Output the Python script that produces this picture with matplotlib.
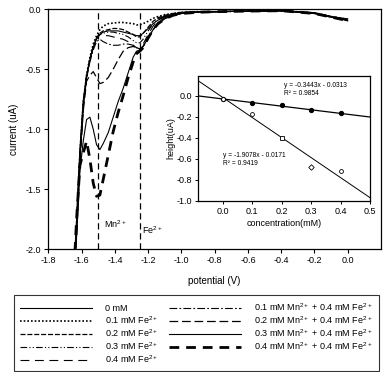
import matplotlib
matplotlib.use('Agg')
from matplotlib import pyplot as plt

plt.rcParams['font.family'] = ['Liberation Sans', 'DejaVu Sans']
plt.rcParams['mathtext.fontset'] = 'custom'
plt.rcParams['mathtext.rm'] = 'Liberation Sans'

# potential (V) shared by all voltammograms
potential = [-1.65, -1.63, -1.61, -1.59, -1.57, -1.55, -1.53, -1.51, -1.49, -1.47,
             -1.44, -1.41, -1.38, -1.35, -1.32, -1.29, -1.27, -1.25, -1.23, -1.20,
             -1.17, -1.14, -1.10, -1.05, -1.00, -0.90, -0.80, -0.60, -0.40, -0.20,
             -0.10, 0.00]

cur_0 = [-2.3, -1.75, -1.17, -0.76, -0.55, -0.42, -0.32, -0.25, -0.21, -0.19,
         -0.18, -0.18, -0.18, -0.19, -0.20, -0.21, -0.22, -0.22, -0.20, -0.16,
         -0.12, -0.09, -0.06, -0.04, -0.03, -0.02, -0.02, -0.015, -0.01, -0.03,
         -0.06, -0.08]
cur_fe1 = [-2.3, -1.8, -1.2, -0.78, -0.55, -0.40, -0.29, -0.22, -0.17, -0.14,
           -0.12, -0.115, -0.11, -0.11, -0.115, -0.12, -0.13, -0.13, -0.12, -0.10,
           -0.075, -0.06, -0.045, -0.035, -0.025, -0.02, -0.02, -0.015, -0.012, -0.03,
           -0.06, -0.085]
cur_fe2 = [-2.3, -1.8, -1.22, -0.80, -0.56, -0.42, -0.31, -0.24, -0.20, -0.18,
           -0.17, -0.16, -0.16, -0.17, -0.19, -0.21, -0.23, -0.23, -0.20, -0.15,
           -0.10, -0.07, -0.05, -0.035, -0.025, -0.02, -0.02, -0.015, -0.012, -0.03,
           -0.06, -0.09]
cur_fe3 = [-2.3, -1.8, -1.22, -0.80, -0.56, -0.42, -0.31, -0.24, -0.21, -0.20,
           -0.19, -0.19, -0.20, -0.21, -0.23, -0.26, -0.28, -0.28, -0.25, -0.18,
           -0.12, -0.08, -0.055, -0.04, -0.03, -0.022, -0.02, -0.015, -0.012, -0.03,
           -0.065, -0.09]
cur_fe4 = [-2.3, -1.8, -1.22, -0.80, -0.56, -0.42, -0.31, -0.24, -0.21, -0.22,
           -0.22, -0.23, -0.24, -0.25, -0.27, -0.30, -0.32, -0.33, -0.29, -0.21,
           -0.14, -0.09, -0.06, -0.045, -0.03, -0.022, -0.02, -0.015, -0.012, -0.035,
           -0.065, -0.095]
cur_mn1 = [-2.3, -1.85, -1.25, -0.82, -0.58, -0.44, -0.34, -0.27, -0.25, -0.27,
           -0.29, -0.30, -0.30, -0.29, -0.29, -0.30, -0.32, -0.33, -0.31, -0.24,
           -0.17, -0.11, -0.07, -0.05, -0.035, -0.025, -0.02, -0.015, -0.012, -0.035,
           -0.065, -0.095]
cur_mn2 = [-2.3, -1.9, -1.30, -0.85, -0.60, -0.55, -0.52, -0.57, -0.62, -0.61,
           -0.57, -0.50, -0.42, -0.35, -0.32, -0.31, -0.32, -0.33, -0.31, -0.24,
           -0.17, -0.11, -0.07, -0.05, -0.035, -0.025, -0.02, -0.015, -0.012, -0.035,
           -0.065, -0.095]
cur_mn3 = [-2.3, -1.9, -1.35, -1.10, -0.92, -0.90, -1.00, -1.13, -1.17, -1.12,
           -1.03, -0.90, -0.77, -0.66, -0.53, -0.40, -0.35, -0.34, -0.31, -0.24,
           -0.17, -0.12, -0.08, -0.05, -0.035, -0.025, -0.02, -0.015, -0.012, -0.035,
           -0.065, -0.095]
cur_mn4 = [-2.3, -1.75, -1.30, -1.20, -1.10, -1.25, -1.45, -1.56, -1.55, -1.42,
           -1.22, -1.02, -0.86, -0.72, -0.57, -0.44, -0.37, -0.35, -0.32, -0.24,
           -0.17, -0.12, -0.08, -0.05, -0.035, -0.025, -0.02, -0.015, -0.012, -0.035,
           -0.065, -0.095]

labels = ['0 mM',
          r'0.1 mM Fe$\mathregular{^{2+}}$',
          r'0.2 mM Fe$\mathregular{^{2+}}$',
          r'0.3 mM Fe$\mathregular{^{2+}}$',
          r'0.4 mM Fe$\mathregular{^{2+}}$',
          r'0.1 mM Mn$\mathregular{^{2+}}$ + 0.4 mM Fe$\mathregular{^{2+}}$',
          r'0.2 mM Mn$\mathregular{^{2+}}$ + 0.4 mM Fe$\mathregular{^{2+}}$',
          r'0.3 mM Mn$\mathregular{^{2+}}$ + 0.4 mM Fe$\mathregular{^{2+}}$',
          r'0.4 mM Mn$\mathregular{^{2+}}$ + 0.4 mM Fe$\mathregular{^{2+}}$']

# inset: peak height vs concentration
conc = [0.0, 0.1, 0.2, 0.3, 0.4]
height_mn = [-0.03, -0.072, -0.085, -0.133, -0.168]
height_fe = [-0.03, -0.174, -0.40, -0.675, -0.72]

curves = [cur_0, cur_fe1, cur_fe2, cur_fe3, cur_fe4, cur_mn1, cur_mn2, cur_mn3, cur_mn4]
styles = [dict(ls='-', lw=0.8),
          dict(ls=(0, (1, 1.2)), lw=1.2),
          dict(ls=(0, (4, 1.5)), lw=0.9),
          dict(ls=(0, (6, 2, 1, 2, 1, 2)), lw=0.8),
          dict(ls=(0, (8, 5)), lw=0.8),
          dict(ls=(0, (7, 2, 1.5, 2)), lw=0.8),
          dict(ls=(0, (7, 3)), lw=0.9),
          dict(ls='-', lw=0.8),
          dict(ls=(0, (3.5, 2.5)), lw=2.0)]

fig = plt.figure(figsize=(3.88, 3.72), dpi=100)
ax = fig.add_axes([0.1245, 0.3306, 0.8575, 0.6444])

lines = []
for cur, st, lab in zip(curves, styles, labels):
    l, = ax.plot(potential, cur, color='black', label=lab, **st)
    lines.append(l)

ax.axvline(-1.5, color='black', ls=(0, (5, 3)), lw=0.9)
ax.axvline(-1.25, color='black', ls=(0, (5, 3)), lw=0.9)
ax.text(-1.465, -1.79, r'Mn$\mathregular{^{2+}}$', fontsize=6.5, va='center')
ax.text(-1.235, -1.84, r'Fe$\mathregular{^{2+}}$', fontsize=6.5, va='center')

ax.set_xlim(-1.8, 0.2)
ax.set_ylim(-2.0, 0.0)
ax.set_xticks([-1.8, -1.6, -1.4, -1.2, -1.0, -0.8, -0.6, -0.4, -0.2, 0.0])
ax.set_yticks([0.0, -0.5, -1.0, -1.5, -2.0])
ax.set_xticklabels(['-1.8', '-1.6', '-1.4', '-1.2', '-1.0', '-0.8', '-0.6', '-0.4', '-0.2', '0.0'])
ax.set_yticklabels(['0.0', '-0.5', '-1.0', '-1.5', '-2.0'])
ax.tick_params(direction='out', length=3, width=0.8, labelsize=6.5, pad=2)
ax.tick_params(top=False, right=False)
ax.set_xlabel('potential (V)', fontsize=7, labelpad=8)
ax.set_ylabel('current (uA)', fontsize=7, labelpad=5)
for s in ax.spines.values():
    s.set_linewidth(0.9)

# inset
ins = fig.add_axes([0.511, 0.4605, 0.4426, 0.3352])
ins.set_xlim(-0.083, 0.5)
ins.set_ylim(-1.0, 0.187)
ins.plot([-0.083, 0.5], [-0.3443 * -0.083 - 0.0313, -0.3443 * 0.5 - 0.0313], color='black', lw=0.9)
ins.plot([-0.083, 0.5], [-1.9078 * -0.083 - 0.0171, -1.9078 * 0.5 - 0.0171], color='black', lw=0.7)
ins.plot(conc, height_mn, 'o', color='black', ms=2.8)
fe_markers = ['o', 'o', 's', 'D', 'o']
for c, h, m in zip(conc, height_fe, fe_markers):
    ins.plot(c, h, m, mfc='white', mec='black', ms=2.8, mew=0.6)
ins.text(0.207, 0.10, 'y = -0.3443x - 0.0313', fontsize=4.8, va='center')
ins.text(0.207, 0.016, 'R² = 0.9854', fontsize=4.8, va='center')
ins.text(0.0, -0.57, 'y = -1.9078x - 0.0171', fontsize=4.8, va='center')
ins.text(0.0, -0.65, 'R² = 0.9419', fontsize=4.8, va='center')
ins.set_xticks([0.0, 0.1, 0.2, 0.3, 0.4, 0.5])
ins.set_yticks([0.0, -0.2, -0.4, -0.6, -0.8, -1.0])
ins.set_yticklabels(['0.0', '-0.2', '-0.4', '-0.6', '-0.8', '-1.0'])
ins.tick_params(direction='out', length=2.5, width=0.7, labelsize=6.5, pad=2)
ins.set_xlabel('concentration(mM)', fontsize=6.5, labelpad=2)
ins.set_ylabel('height(uA)', fontsize=6.5, labelpad=1)
for s in ins.spines.values():
    s.set_linewidth(0.9)

leg = fig.legend(handles=lines, loc='center', bbox_to_anchor=(0.506, 0.104), ncol=2,
                 fontsize=6.5, handlelength=8.0, handletextpad=1.5, columnspacing=1.1,
                 labelspacing=0.15, frameon=True, fancybox=False, edgecolor='black',
                 borderpad=0.65)
leg.get_frame().set_linewidth(0.8)

fig.savefig('out.png', dpi=100)
